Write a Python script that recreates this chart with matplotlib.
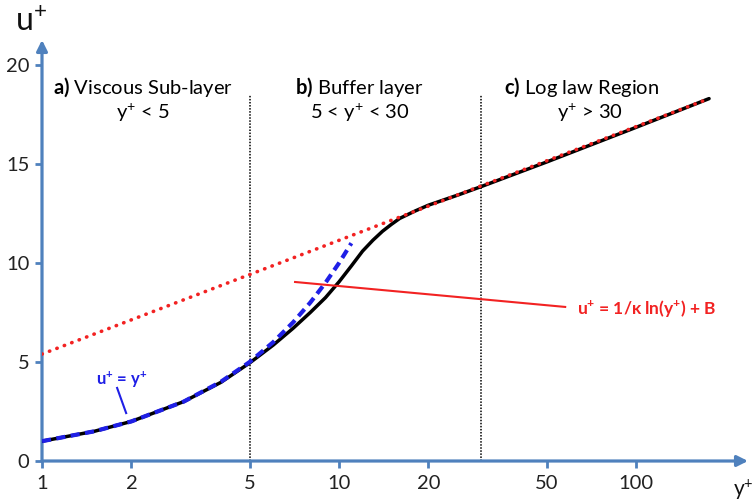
import numpy as np
import matplotlib.pyplot as plt

plt.rcParams['font.family'] = ['Lato', 'DejaVu Sans']
plt.rcParams['mathtext.fontset'] = 'custom'
plt.rcParams['mathtext.rm'] = 'Lato'
plt.rcParams['mathtext.bf'] = 'Lato:bold'
plt.rcParams['mathtext.it'] = 'Lato:italic'

# full velocity profile (black)
yplus_profile = [1, 1.5, 2, 3, 4, 5, 6, 7, 8, 9, 10, 11, 12, 13, 14, 15, 16, 18, 20, 25, 30, 50, 100, 176]
uplus_profile = [1.0, 1.5, 2.0, 3.0, 3.97, 4.95, 5.85, 6.7, 7.5, 8.25, 9.05, 9.85, 10.6, 11.15, 11.6, 11.95, 12.25, 12.62, 12.92, 13.42, 13.85, 15.1, 16.85, 18.3]

# viscous sub-layer u+ = y+ (blue dashed)
yplus_visc = [1, 1.5, 2, 3, 4, 5, 6, 7, 8, 9, 10, 11]
uplus_visc = [1, 1.5, 2, 3, 4, 5, 6, 7, 8, 9, 10, 11]

# log law (red dotted)
yplus_log = [1, 176]
uplus_log = [5.4, 18.3]

region_bounds = [5, 30]
xticks = [1, 2, 5, 10, 20, 50, 100]
yticks = [0, 5, 10, 15, 20]

axis_col = '#4f81bd'
blue = '#1f1fe6'
red = '#f22222'

fig = plt.figure(figsize=(7.53, 5.01), dpi=100)
ax = fig.add_axes([42/753, 40/501, 706/753, 421/501])
ax.set_xscale('log')
ax.set_xlim(1, 238)
ax.set_ylim(0, 21.26)

for s in ax.spines.values():
    s.set_visible(False)

# axes with arrow heads
ax.annotate('', xy=(1, 0), xytext=(0, 0), xycoords='axes fraction',
            arrowprops=dict(arrowstyle='-|>', color=axis_col, lw=2.3,
                            mutation_scale=16, shrinkA=0, shrinkB=0))
ax.annotate('', xy=(0, 1), xytext=(0, 0), xycoords='axes fraction',
            arrowprops=dict(arrowstyle='-|>', color=axis_col, lw=2.3,
                            mutation_scale=16, shrinkA=0, shrinkB=0))

ax.set_xticks(xticks)
ax.set_xticklabels([str(t) for t in xticks])
ax.xaxis.set_minor_locator(plt.NullLocator())
ax.set_yticks(yticks)
ax.set_yticklabels([str(t) for t in yticks])
ax.tick_params(axis='both', which='major', direction='out', length=5, width=2,
               color=axis_col, labelsize=14.5, labelcolor='#222222')
ax.tick_params(axis='x', pad=5)
ax.tick_params(axis='y', pad=4)

for xb in region_bounds:
    ax.plot([xb, xb], [0, 18.5], color='black', lw=1.1, ls=(0, (1, 1)), zorder=1)

ax.plot(yplus_profile, uplus_profile, color='black', lw=2.5, zorder=3,
        solid_capstyle='round', solid_joinstyle='round')
ax.plot(yplus_visc, uplus_visc, color=blue, lw=3, ls=(0, (2.2, 1.3)), zorder=4)
ax.plot(yplus_log, uplus_log, color=red, lw=2.6, ls=(0, (0.1, 2.1)),
        dash_capstyle='round', zorder=5)

# region labels
fs = 14.5
ax.text(2.19, 18.9, r'$\mathbf{a)}$ Viscous Sub-layer', ha='center', va='center', fontsize=fs)
ax.text(2.19, 17.6, r'y$^{+}$ < 5', ha='center', va='center', fontsize=fs)
ax.text(11.7, 18.9, r'$\mathbf{b)}$ Buffer layer', ha='center', va='center', fontsize=fs)
ax.text(11.7, 17.6, r'5 < y$^{+}$ < 30', ha='center', va='center', fontsize=fs)
ax.text(65.7, 18.9, r'$\mathbf{c)}$ Log law Region', ha='center', va='center', fontsize=fs)
ax.text(70, 17.6, r'y$^{+}$ > 30', ha='center', va='center', fontsize=fs)

# annotations
ax.plot([7.11, 57.7], [9.04, 7.78], color=red, lw=1.5, zorder=6)
ax.text(63.3, 7.7, r'u$^{\mathbf{+}}$ = 1/κ ln(y$^{\mathbf{+}}$) + B', color=red,
        fontweight='bold', fontsize=12.5, ha='left', va='center')
ax.plot([1.79, 1.92], [3.69, 2.42], color=blue, lw=1.5, zorder=6)
ax.text(1.86, 4.1, r'u$^{\mathbf{+}}$ = y$^{\mathbf{+}}$', color=blue,
        fontweight='bold', fontsize=12, ha='center', va='center')

fig.text(15/753, 1 - 22/501, r'u$^{+}$', fontsize=23, ha='left', va='center', color='#111111')
fig.text(733/753, 1 - 490/501, r'y$^{+}$', fontsize=15, ha='left', va='center', color='#111111')

fig.savefig('out.png', dpi=100)
